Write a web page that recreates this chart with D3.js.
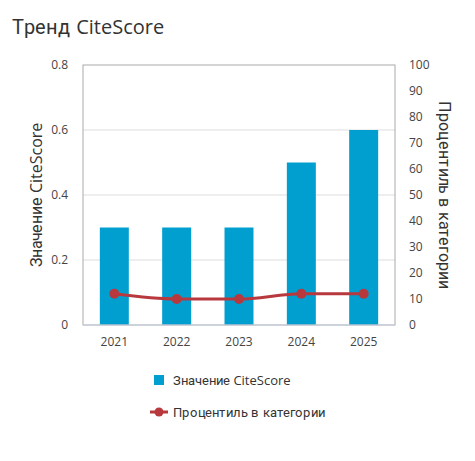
<!DOCTYPE html>
<html lang="ru">
<head>
<meta charset="UTF-8">
<script src="https://d3js.org/d3.v7.min.js"></script>
<style>
  @font-face {
    font-family: "CyrMix";
    src: local("Roboto"), local("Roboto Regular"), local("Roboto-Regular");
    unicode-range: U+0400-04FF;
  }
  body { margin: 0; background: #fff; font-family: "CyrMix", "Open Sans", sans-serif; }
  svg { font-family: "CyrMix", "Open Sans", sans-serif; }
  .tick text { fill: #444; font-size: 12px; }
</style>
</head>
<body>
<svg width="475" height="461"></svg>
<script>
const years = ["2021", "2022", "2023", "2024", "2025"];
const citeScore = [0.3, 0.3, 0.3, 0.5, 0.6];
const percentile = [12, 10, 10, 12, 12];
const leftTicks = [0, 0.2, 0.4, 0.6, 0.8];
const rightTicks = [0, 10, 20, 30, 40, 50, 60, 70, 80, 90, 100];

const svg = d3.select("svg");
const plotLeft = 83, plotRight = 395, plotTop = 65, plotBottom = 325;
const barColor = "#009fd0", lineColor = "#b7393e";

const x = d3.scaleBand().domain(years).range([plotLeft, plotRight]).paddingInner(0.535).paddingOuter(0.27);
const y = d3.scaleLinear().domain([0, 0.8]).range([plotBottom, plotTop]);
const y2 = d3.scaleLinear().domain([0, 100]).range([plotBottom, plotTop]);

svg.append("text").attr("x", 12).attr("y", 34)
  .attr("font-size", 20).attr("fill", "#333").text("Тренд CiteScore");

// grid
svg.append("g").selectAll("line").data(leftTicks.slice(1, -1)).join("line")
  .attr("x1", plotLeft).attr("x2", plotRight)
  .attr("y1", d => y(d)).attr("y2", d => y(d))
  .attr("stroke", "#ddd");

// bars
svg.append("g").selectAll("rect").data(citeScore).join("rect")
  .attr("x", (d, i) => x(years[i]))
  .attr("width", x.bandwidth())
  .attr("y", d => y(d))
  .attr("height", d => y(0) - y(d))
  .attr("fill", barColor);

// frame
svg.append("rect").attr("x", plotLeft).attr("y", plotTop)
  .attr("width", plotRight - plotLeft).attr("height", plotBottom - plotTop)
  .attr("fill", "none").attr("stroke", "#aaa");
svg.append("line").attr("x1", plotLeft).attr("x2", plotRight)
  .attr("y1", plotBottom).attr("y2", plotBottom).attr("stroke", "#c5cde0");

// axes
const ax = svg.append("g").attr("transform", `translate(0,${plotBottom})`)
  .call(d3.axisBottom(x).tickSize(0).tickPadding(12));
const ay = svg.append("g").attr("transform", `translate(${plotLeft},0)`)
  .call(d3.axisLeft(y).tickValues(leftTicks).tickFormat(d => d === 0 ? "0" : d3.format(".1f")(d)).tickSize(0).tickPadding(15));
const ay2 = svg.append("g").attr("transform", `translate(${plotRight},0)`)
  .call(d3.axisRight(y2).tickValues(rightTicks).tickSize(0).tickPadding(14));
ay2.selectAll(".tick text").attr("text-anchor", "start");
[ax, ay, ay2].forEach(g => g.select(".domain").remove());
svg.selectAll(".tick text").attr("font-family", "'Open Sans', sans-serif");

// line
const cx = (d, i) => x(years[i]) + x.bandwidth() / 2;
svg.append("path").datum(percentile)
  .attr("d", d3.line().x(cx).y(d => y2(d)).curve(d3.curveMonotoneX))
  .attr("fill", "none").attr("stroke", lineColor).attr("stroke-width", 3);
svg.append("g").selectAll("circle").data(percentile).join("circle")
  .attr("cx", cx).attr("cy", d => y2(d)).attr("r", 5).attr("fill", lineColor);

// axis titles
svg.append("text").attr("transform", `translate(42,${(plotTop + plotBottom) / 2}) rotate(-90)`)
  .attr("text-anchor", "middle").attr("font-size", 16).attr("fill", "#333")
  .text("Значение CiteScore");
svg.append("text").attr("transform", `translate(439,${(plotTop + plotBottom) / 2}) rotate(90)`)
  .attr("text-anchor", "middle").attr("font-size", 16).attr("fill", "#333")
  .text("Процентиль в категории");

// legend
svg.append("rect").attr("x", 154).attr("y", 375).attr("width", 10).attr("height", 10).attr("fill", barColor);
svg.append("text").attr("x", 173).attr("y", 385).attr("font-size", 13).attr("fill", "#333").text("Значение CiteScore");
svg.append("line").attr("x1", 150).attr("x2", 168).attr("y1", 412).attr("y2", 412)
  .attr("stroke", lineColor).attr("stroke-width", 3);
svg.append("circle").attr("cx", 159).attr("cy", 412).attr("r", 4.5).attr("fill", lineColor);
svg.append("text").attr("x", 173).attr("y", 417).attr("font-size", 13).attr("fill", "#333").text("Процентиль в категории");
</script>
</body>
</html>
